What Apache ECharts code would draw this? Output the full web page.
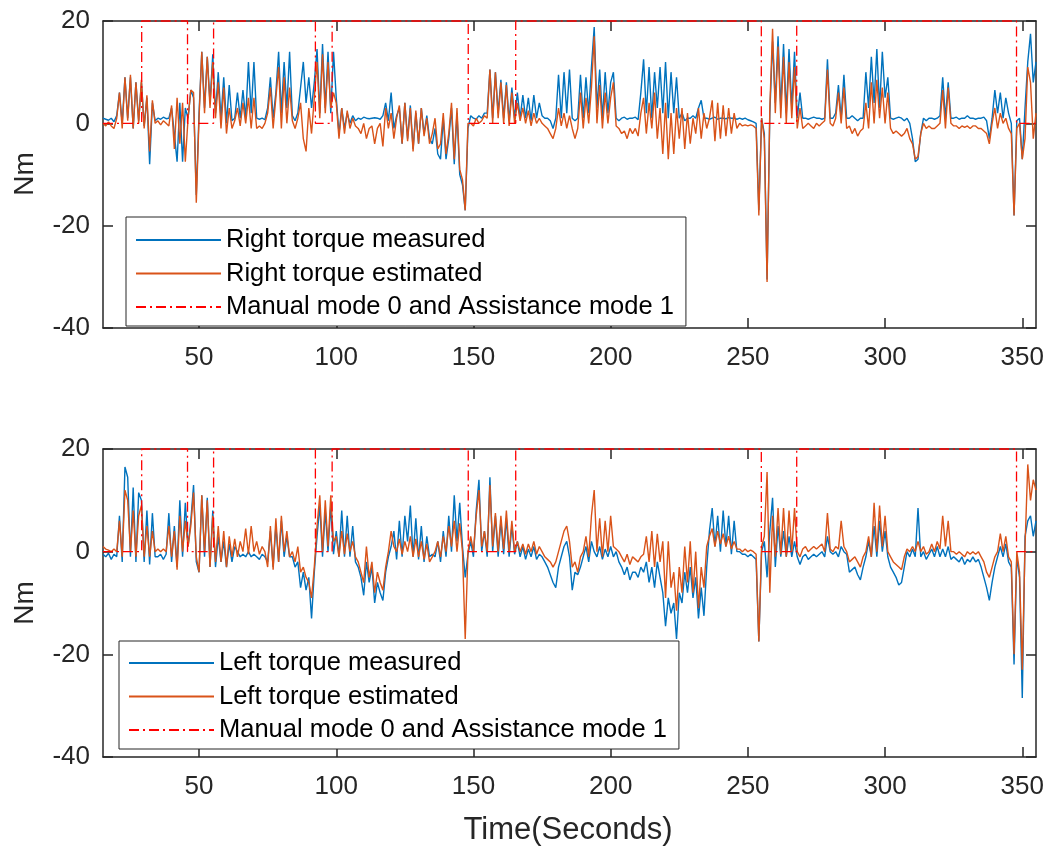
<!DOCTYPE html>
<html><head><meta charset="utf-8">
<script src="https://cdn.jsdelivr.net/npm/echarts@6/dist/echarts.min.js"></script>
<style>html,body{margin:0;padding:0;background:#fff}#c{width:1048px;height:848px}</style>
</head><body><div id="c"></div>
<script>
// time base of the sampled series (seconds)
const T_START = 15, T_STEP = 1;
const xTicks = [50, 100, 150, 200, 250, 300, 350];
const yTicks = [-40, -20, 0, 20];

const rightMeasured = [
1,0.8,0.6,1,0.3,1.5,6,0,9,1,
9,-1,8,0.5,8,-0.5,5,-8,4,0.5,
1,0.8,1.2,0.9,1,3,-2,-7.5,4,-7.5,
3,1,6.5,5,-14,2,14,3,13,4,
13.5,2,10,1,9,0,7.5,0.5,1,6,
1,6.5,1,12,2,12,1,0.8,1,0.7,
3,9,1,6,14,2,12,3,14,1.5,
0.5,2,7,12,4,9,3,8,14.5,2,
15.5,3,14,2,14,5,-2,3,-1,2,
0,1.5,0.5,1,0.8,1.2,1,0.9,1,1.1,
1,0.8,1.5,4,0.5,6,-1,1.5,3,-4,
4,-3,3.5,-5,2,-4,3,-2,1.5,-3,
-4,-1,-6,-7,1,-7,-3,3,-8,2,
-10,-12,-17,-1,1.5,1,0.8,1.5,1,2,
2,10.5,1,10,2,8.5,1,8,0.5,7,
1,6,1,5.5,1,5,0.5,5.5,1,4,
1.5,1,1,0.5,-1,1,9.5,1,10,2,
10.5,1,0.5,1,9.5,1,9,2,11,18.8,
3,10.5,1,10,2,8,10,1,0.5,1,
1.2,0.8,1,1,1.2,0.7,6,12.5,2,11,
1,10,3,11,2,12,1,10,2,9,
1,2,0.5,1,1,1.5,1,3,4.5,1,
1,0.8,1,1.2,0.8,1,1,0.9,1.1,1,
1,0.8,1,0.8,1,0.7,0.5,0.3,0,-17,
1,-2,-30.5,2,16,4,17,3,15.5,2,
14.5,3,14,1,6,1,1,0.8,1,1.2,
1,1,0.8,1,12.5,1,1,2,7.5,1,
9.5,1,1,1.5,1,0.5,1,1,10,3,
13,4,14.5,3,14,5,9,1,0.8,1,
1.2,1,0.5,1,0,-3,-7.5,-7,-2,1,
0.5,1,1,0.8,1,1.5,9,1,8,1,
1,1.2,0.8,1,1,1.5,1,1,0.8,1,
1,1.2,0.5,-3,1,6.5,2,6,1,5,
2,0,-18,0.5,1,-7,3,12,17.5,8,
12];

const rightEstimated = [
0,-0.5,0.3,-0.5,-1,1,6,-1,9,0.5,
9.5,-1,8,0,8.5,-1,5.5,-5.5,4.5,0,
0.5,-0.3,0.5,0,-0.5,3.5,-5,5,-4,4,
-7.5,1,6.5,6,-15.5,1,14,2,13,3,
12,1,8,-1,7,-2,3,-1,0.5,3,
-0.5,4,0,5,-1,5,-1,-0.5,-1,0,
2,7,-1,5,11,-1,9,0,7,0.5,
-1,1,4,-3,-5.5,3,-2,5,12,1,
13.5,2,12,3,6,4,-3,3,-2,2.5,
-1,1,-0.5,-1,-2,0,-3,-1,-0.5,-4,
-1,0,-4.5,3,-1,2,-3,1,3.5,-4,
4,-3.5,3,-5.5,2.5,-4,3,-2.5,1,-4,
-2,1,-5,-4,2,-6,-2,4,-7,3,
-9,-11,-17,0,0,-0.5,1,0,0.5,1.5,
1,10.5,0,10,1,8,0,7.5,-0.5,6,
0,4,0.5,3,0,2.5,-0.5,2,0,1,
0,-0.5,-1,-2,-3,-1,3,-0.5,2,-1,
1.5,-1,-3,-1,6,-1,5,0,7,17,
0,7.5,-1,6,0,5,8,-0.5,-1,-2,
-1.5,-3,-1,-2,-1,-2.5,2,5,-2,4,
-1,6,-3,3,-6,4,-7,2,-6,3,
-3,3,-5,2,-4,1,-2,3,-3,2,
-1,1,4.5,-3.5,4,-3,3.5,-2.5,3,-2,
2,-1,0,-0.5,-0.3,-0.5,-0.3,-0.5,-1,-18,
1,-3,-31,3,18.5,2,15,1,13,0,
12,1,11,-1,3,-1,-0.5,0,-0.5,-1,
0,-0.5,0,0.5,10.5,0,-0.5,1,6,0,
7,-1,-0.5,-2,-1,-2.5,-1.5,-1,4,-1,
8,0,8.5,1,7,0,6,-1,-2,-1.5,
-2,-2.5,-2,-1,-3,-4,-7,-6.5,-2,0,
-1,-0.5,-1,-1,-0.5,0,6.5,-1,7,0,
-0.5,-0.5,-1,-0.5,-0.8,-0.5,-1,-0.5,-0.5,-1,
-1,-1.5,-2,-4,0,3,-1,2,0,1,
-1,-2,-18,-1,0,-7,-3,11,8,-3,
2];

const leftMeasured = [
-0.5,-1,-0.3,-1.5,-0.5,-1,7,-2,16.5,14.5,
-1,12.5,-2,11.5,10,-2,8,-2.5,7.5,-1,
-1,-0.5,-1.5,-0.5,7.5,-2,5,-3,10,-1,
9.5,1,6,13,-2,-4,11,-1,10.5,-3,
8,-3,3,-2,2,-3,1.5,-2,1,0,
-1,-0.5,-1,0,-1,-0.5,-1,-1.5,-0.5,-1,
-2,4,-3,5,-2,6,-1,3,-1,-1,
-3,-2,-7,-4,-7.5,-5,-13,-4,3,9,
-1,8,0,9,-0.5,4,-1,8,-1,7,
-1,5,-2,-3,-5,-8.5,-2,-6,-3,-10,
-6,-8,-9.5,-4,-1,1,4,-1.5,6,-1,
7,2,9,-1,6.5,-1.5,5,-2,3,-1,
-0.5,-1,2,-2,4,-1,7,0,11,2,
9.5,1,-5,-0.5,2,-1,8,14,0,4,
-1,14.5,0,7,-1,6,-0.5,6.5,-1,5,
-0.5,2,-1,1,-1.5,0.5,-1,1,-1.5,-0.5,
-1,-2,-3,-4.5,-6,-7,-3,-1,1,2,
-1,-7.5,-4,-4.5,-3,-1,1,-2,2,0,
-1,1,-1.5,0.5,-1,1,-1,0,-2,-3,
-4.5,-3,-5.5,-4,-4,-5,-3,-4,-2,-6,
-3,-7,-2,-5,-8,-14.5,-9,-12,-10,-17,
-8,-10,-4,-8,-3,-9,-5,-13,-7,-12.5,
-3,4,8.5,1,7,0,8,1,7,-0.5,
6,0,0,-0.5,-0.5,-1,-0.5,-1,-1.5,-17.5,
0,2,-5,4,10.5,-3,5,-1,4,-1,
3,-1,2,-1,-2.5,-1,-0.5,-1.5,-1,-0.5,
-1,-0.5,0,-1,3,0,-0.5,0,-1,1,
0,-0.5,-4,-3.5,-3,-4.5,-5.5,-3,-1,2,
-1,5,-1,6,0,4,-1,-3,-4,-5,
-6.5,-6,-3,0,-1,0.5,-1,8.5,-1,0,
-1.5,-0.5,0.5,-1,1,-1,0.5,-1,1,-1.5,
-1,-1.5,-2,-1,-2.5,-1.5,-2,-1,-2,-1.5,
-3,-5,-7,-9.5,-6,-3,-1,1,-1,1.5,
-2,-3,-22,-1,-5,-28.5,3,6,7,3,
6];

const leftEstimated = [
1,0.5,0.3,0,0.5,0,6,-1,12,10,
0,8,-1,7,9,-1,5,-1,4,0,
0.5,0,0.5,0,5,-1,4,-3.5,7,0,
6,1,5,11.5,-1,-4,11,0,10,-3,
7,-2,5,-2,4,-3,3,-1,2.5,-1,
2,0,4.5,-0.5,5,0,2,-0.5,1,0,
-3,5,-3.5,6.5,-2,7,0,4,-1,0,
-2,1,-4,-3,-5,-6,-9,-3,5,11,
0,10,1,11,2,3,-1,4,-0.5,3.5,
0,2,-1,-2,-4,-6,1,-5,-2,-8,
-4,-6,-7.5,-3,0,4,1,0,2.5,-0.5,
2,0,3,-1,2.5,-1,2,-1.5,1.5,-2,
-1,0,2,-1,3,0,5,1,6,0,
5.5,0,-17,0,3,0,7,12,1,4,
0,13,1,7.5,0,7,0.5,8,0,6,
0,2,0,1.5,-0.5,1.5,0,2,-0.5,1,
0,-1,-1.5,-2,-3,-2,0,2,4,5,
2,-3,-2,-4,-1,0,3,-1,7,12,
0,6.5,-1,6,0,7,1,0.5,0,-1,
-2,-0.5,-2.5,-1,-1.5,-2,-1,-0.5,3,-2,
4,-3,3.5,-2,2,-9,2,-7,-4,-11.5,
-3,-8,1,-6,2,-8,0,-11,-3,-7,
1,3,4.5,1,4,1.5,3.5,1,3,0.5,
2,0.5,0.5,0,0.5,0,0.3,0,-0.5,-17.5,
1,3,15.5,-8,7,-1,8.5,-0.5,8.5,-1,
8,0,8.5,0,-1,0.5,1,0,0.5,1,
0.5,1,1.5,0,7.5,0.5,0,1,0.5,6,
1,0,-2,-1.5,-1,-2,-3,-1,0,3,
-1,9.5,0,9,1,7,0,-1,-2,-2.5,
-3,-3.5,-1,0.5,0,1,0,2,0,1,
-0.5,0,1.5,0,2,0.5,7,1,6,0,
0,-0.5,0,-0.5,-1,0,-0.5,0,-0.5,0,
-1,-2,-4,-5,-3,-1,0,3.5,0,3,
-1,-2,-20,0,-4,-23,1,17,10,14,
12];

// Manual mode 0 / Assistance mode 1 (drawn scaled to 0 / 20)
const modeTimes  = [15,29.1,29.1,45.8,45.8,55.3,55.3,92.4,92.4,98.5,98.5,148.1,148.1,165.4,165.4,254.9,254.9,267.8,267.8,347.9,347.9,355];
const modeValues = [0,0,20,20,0,0,20,20,0,0,20,20,0,0,20,20,0,0,20,20,0,0];

const NAME_MODE = 'Manual mode 0 and Assistance mode 1';
const BLUE = '#0072BD', ORANGE = '#D95319', RED = '#FF0000', AX = '#262626';
const FONT = '"Liberation Sans", Arial, Helvetica, sans-serif';

function pairs(vals){ return vals.map((v,i)=>[T_START + i*T_STEP, v]); }
const modeData = modeTimes.map((t,i)=>[t, modeValues[i]]);

function xAxesFor(gi){
  const base = {type:'value', gridIndex:gi, min:15, max:355, splitLine:{show:false},
    axisLine:{show:true, onZero:false, lineStyle:{color:AX, width:1.5}},
    axisTick:{show:true, inside:true, length:10, customValues:xTicks, lineStyle:{color:AX, width:1.5}}};
  return [
    Object.assign({}, base, {position:'bottom',
      axisLabel:{show:true, customValues:xTicks, fontSize:26, color:AX, fontFamily:FONT, margin:17}}),
    Object.assign({}, base, {position:'top', axisLabel:{show:false}})
  ];
}
function yAxesFor(gi){
  const base = {type:'value', gridIndex:gi, min:-40, max:20, interval:20, splitLine:{show:false},
    axisLine:{show:true, onZero:false, lineStyle:{color:AX, width:1.5}},
    axisTick:{show:true, inside:true, length:10, lineStyle:{color:AX, width:1.5}}};
  return [
    Object.assign({}, base, {position:'left',
      axisLabel:{show:true, fontSize:26, color:AX, fontFamily:FONT, margin:13}}),
    Object.assign({}, base, {position:'right', axisLabel:{show:false}})
  ];
}
function lineSeries(name, vals, color, xi, yi){
  return {type:'line', name:name, data:pairs(vals), xAxisIndex:xi, yAxisIndex:yi,
    symbol:'none', showSymbol:false, lineStyle:{color:color, width:1.4}, itemStyle:{color:color},
    z:2, animation:false};
}
function modeSeries(xi, yi){
  return {type:'line', name:NAME_MODE, data:modeData, xAxisIndex:xi, yAxisIndex:yi,
    symbol:'none', showSymbol:false, clip:false,
    lineStyle:{color:RED, width:1.3, type:[10,4,2,4]}, itemStyle:{color:RED}, z:3, animation:false};
}
function legendFor(left, top, names, pad){
  return {left:left, top:top, orient:'vertical', data:names, selectedMode:false,
    itemWidth:85, itemHeight:14, itemGap:5.5, padding:pad,
    borderColor:AX, borderWidth:1, backgroundColor:'#fff', borderRadius:0,
    itemStyle:{color:'rgba(0,0,0,0)', borderColor:'rgba(0,0,0,0)', borderWidth:0, opacity:0},
    textStyle:{fontSize:25.5, fontFamily:FONT, color:'#000', lineHeight:28}};
}

const chart = echarts.init(document.getElementById('c'), null, {renderer:'canvas'});
chart.setOption({
  animation:false,
  backgroundColor:'#fff',
  grid:[
    {left:103, right:12, top:21, height:307},
    {left:103, right:12, top:449, height:308}
  ],
  xAxis:[...xAxesFor(0), ...xAxesFor(1)],
  yAxis:[...yAxesFor(0), ...yAxesFor(1)],
  legend:[
    legendFor(126, 217, ['Right torque measured','Right torque estimated', NAME_MODE], [9,12,5,9]),
    legendFor(119, 641, ['Left torque measured','Left torque estimated', NAME_MODE], [8,12,5,9])
  ],
  series:[
    lineSeries('Right torque measured', rightMeasured, BLUE, 0, 0),
    lineSeries('Right torque estimated', rightEstimated, ORANGE, 0, 0),
    modeSeries(0, 0),
    lineSeries('Left torque measured', leftMeasured, BLUE, 2, 2),
    lineSeries('Left torque estimated', leftEstimated, ORANGE, 2, 2),
    modeSeries(2, 2)
  ],
  graphic:[
    {type:'text', x:25, y:174, rotation:Math.PI/2,
      style:{text:'Nm', font:'28px ' + FONT, fill:AX, textAlign:'center', textVerticalAlign:'middle'}},
    {type:'text', x:25, y:603, rotation:Math.PI/2,
      style:{text:'Nm', font:'28px ' + FONT, fill:AX, textAlign:'center', textVerticalAlign:'middle'}},
    {type:'text', x:568, y:830,
      style:{text:'Time(Seconds)', font:'31px ' + FONT, fill:AX, textAlign:'center', textVerticalAlign:'middle'}}
  ]
});
</script>
</body></html>
